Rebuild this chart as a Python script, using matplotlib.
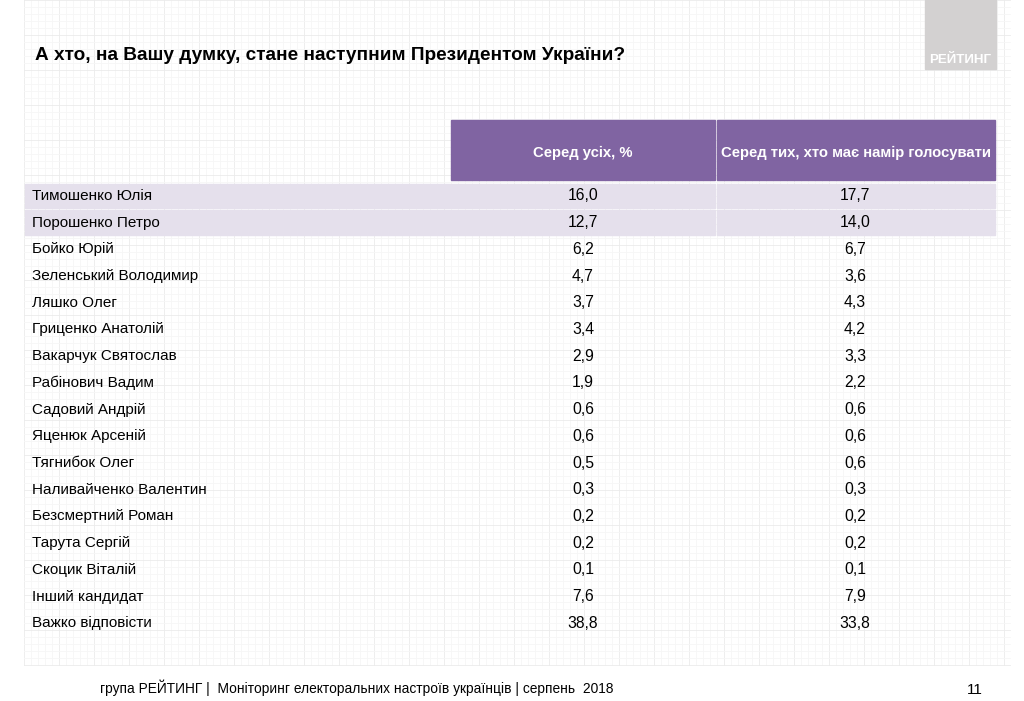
import numpy as np
import matplotlib
matplotlib.use('Agg')
import matplotlib.pyplot as plt
from matplotlib.patches import Rectangle

TITLE = 'А хто, на Вашу думку, стане наступним Президентом України?'
COL_HEADERS = ['Серед усіх, %', 'Серед тих, хто має намір голосувати']
NAMES = ['Тимошенко Юлія', 'Порошенко Петро', 'Бойко Юрій', 'Зеленський Володимир',
         'Ляшко Олег', 'Гриценко Анатолій', 'Вакарчук Святослав', 'Рабінович Вадим',
         'Садовий Андрій', 'Яценюк Арсеній', 'Тягнибок Олег', 'Наливайченко Валентин',
         'Безсмертний Роман', 'Тарута Сергій', 'Скоцик Віталій', 'Інший кандидат',
         'Важко відповісти']
ALL_PCT = [16.0, 12.7, 6.2, 4.7, 3.7, 3.4, 2.9, 1.9, 0.6, 0.6, 0.5, 0.3, 0.2, 0.2, 0.1, 7.6, 38.8]
VOTERS_PCT = [17.7, 14.0, 6.7, 3.6, 4.3, 4.2, 3.3, 2.2, 0.6, 0.6, 0.6, 0.3, 0.2, 0.2, 0.1, 7.9, 33.8]
HIGHLIGHT = 2  # first rows shaded
FOOTER = 'група РЕЙТИНГ |  Моніторинг електоральних настроїв українців | серпень  2018'
PAGE = '11'

PURPLE = '#8064a2'
LAVENDER = '#e5e0ec'

plt.rcParams['font.family'] = ['Liberation Sans', 'DejaVu Sans']

fig = plt.figure(figsize=(10.24, 7.01), dpi=100)
ax = fig.add_axes([0, 0, 1, 1])
ax.set_xlim(0, 1024)
ax.set_ylim(701, 0)
ax.axis('off')

# graph-paper background
gx0, gx1, gy0, gy1 = 24, 1010, 0, 665
for x in np.arange(gx0, gx1 + 1, 7):
    major = (x - gx0) % 35 == 0
    ax.plot([x, x], [gy0, gy1], color='#ebebeb' if major else '#f6f6f6', lw=0.6, zorder=0)
for y in np.arange(gy0, gy1 + 1, 7):
    major = (y - gy0) % 35 == 0
    ax.plot([gx0, gx1], [y, y], color='#ebebeb' if major else '#f6f6f6', lw=0.6, zorder=0)

# logo block
ax.add_patch(Rectangle((925, 0), 71, 69, color='#d3d1d1', zorder=1))
ax.text(960, 60, 'РЕЙТИНГ', color='white', fontsize=9.6, fontweight='bold',
        ha='center', va='center', zorder=2)

ax.text(35, 55, TITLE, fontsize=13.7, fontweight='bold', va='center', ha='left', zorder=2)

# table header
tx0, tmid, tx1 = 451, 715, 995
ax.add_patch(Rectangle((tx0, 120), tmid - tx0, 60, color=PURPLE, zorder=1))
ax.add_patch(Rectangle((tmid + 1.5, 120), tx1 - tmid - 1.5, 60, color=PURPLE, zorder=1))
ax.text((tx0 + tmid) / 2, 153, COL_HEADERS[0], color='white', fontsize=10.7,
        fontweight='bold', ha='center', va='center', zorder=2)
ax.text((tmid + tx1) / 2 + 1, 153, COL_HEADERS[1], color='white', fontsize=10.7,
        fontweight='bold', ha='center', va='center', zorder=2)

row0, row_h = 196, 26.7
for i, (name, a, v) in enumerate(zip(NAMES, ALL_PCT, VOTERS_PCT)):
    yc = row0 + i * row_h
    if i < HIGHLIGHT:
        ax.add_patch(Rectangle((25, yc - row_h / 2 + 1), tmid - 25, row_h - 2, color=LAVENDER, zorder=1))
        ax.add_patch(Rectangle((tmid + 1.5, yc - row_h / 2 + 1), tx1 - tmid - 1.5, row_h - 2,
                               color=LAVENDER, zorder=1))
    ax.text(32, yc, name, fontsize=11, ha='left', va='center', zorder=2)
    ax.text((tx0 + tmid) / 2, yc, f'{a:.1f}'.replace('.', ','), fontsize=11.3,
            ha='center', va='center', zorder=2)
    ax.text((tmid + tx1) / 2, yc, f'{v:.1f}'.replace('.', ','), fontsize=11.3,
            ha='center', va='center', zorder=2)

ax.text(100, 688, FOOTER, fontsize=9.9, ha='left', va='center')
ax.text(975, 690, PAGE, fontsize=11, ha='center', va='center')

fig.savefig('out.png', dpi=100)
